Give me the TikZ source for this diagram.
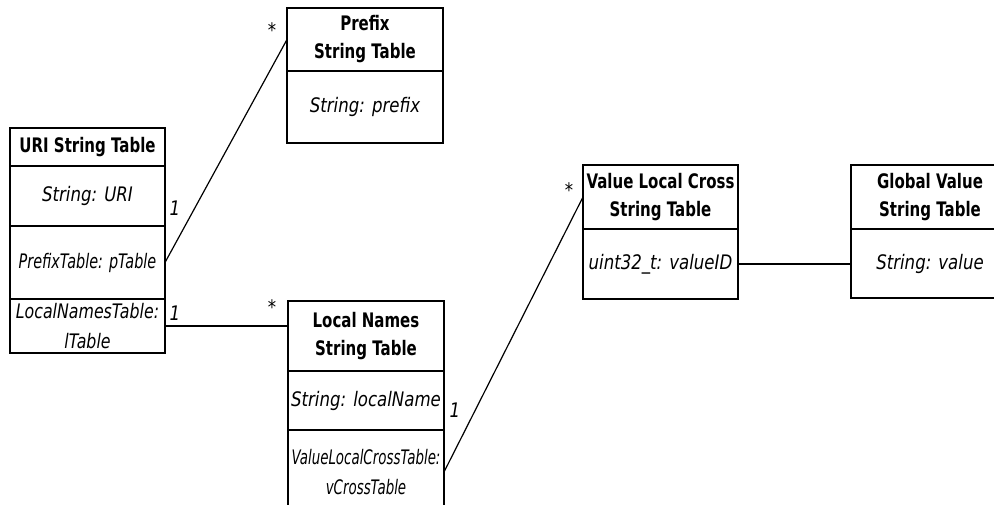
\documentclass[tikz,border=0pt]{standalone}
\usepackage{fontspec}
\setmainfont{DejaVu Sans}[FakeStretch=0.83]
\newfontfamily\headfont{DejaVu Sans}[FakeStretch=0.75]
\newfontfamily\midfont{DejaVu Sans}[FakeStretch=0.79]
\newfontfamily\ptabfont{DejaVu Sans}[FakeStretch=0.72]
\newfontfamily\tightfont{DejaVu Sans}[FakeStretch=0.67]
\usetikzlibrary{positioning}
\tikzset{
  tblhead/.style={draw, line width=1.5pt, outer sep=0pt, inner sep=2pt, minimum width=155pt,
    align=center, anchor=north west, font=\fontsize{20}{28}\selectfont\headfont\bfseries},
  tblrow/.style={draw, line width=1.5pt, outer sep=0pt, inner sep=2pt, minimum width=155pt,
    align=center, font=\fontsize{20}{30}\selectfont\itshape},
  midrow/.style={tblrow, font=\fontsize{20}{30}\selectfont\midfont\itshape},
  ptabrow/.style={tblrow, font=\fontsize{20}{30}\selectfont\ptabfont\itshape},
  tightrow/.style={tblrow, font=\fontsize{20}{30}\selectfont\tightfont\itshape},
  mult/.style={inner sep=0pt, font=\fontsize{20}{22}\selectfont\itshape},
  star/.style={inner sep=0pt, font=\fontsize{20}{22}\selectfont},
  assoc/.style={line width=1.2pt}
}
\begin{document}
\begin{tikzpicture}[x=1pt,y=-1pt]
\useasboundingbox (0,0) rectangle (994,504);
\clip (0,0) rectangle (994,504);
% URI table
\node[tblhead, minimum height=38pt] (uri) at (10,128) {URI String Table};
\node[tblrow, minimum height=60pt, below=0pt of uri] (uristr) {String: URI};
\node[ptabrow, minimum height=73pt, below=0pt of uristr] (ptab) {PrefixTable: pTable};
\node[midrow, minimum height=54pt, below=0pt of ptab] (ltab) {LocalNamesTable:\\lTable};
% Prefix table
\node[tblhead, minimum height=63pt, minimum width=156pt] (prefix) at (287,8) {Prefix\\String Table};
\node[tblrow, minimum height=72pt, minimum width=156pt, below=0pt of prefix] (prefstr) {String: prefix};
% Local names table
\node[tblhead, minimum height=70pt, minimum width=156pt] (lnames) at (288,301) {Local Names\\String Table};
\node[tblrow, minimum height=59pt, minimum width=156pt, below=0pt of lnames] (lnstr) {String: localName};
\node[tightrow, minimum height=84pt, minimum width=156pt, below=0pt of lnstr] (vcross) {ValueLocalCrossTable:\\vCrossTable};
% Value local cross table
\node[tblhead, minimum height=64pt] (vlc) at (583,165) {Value Local Cross\\String Table};
\node[tblrow, minimum height=70pt, below=0pt of vlc] (vid) {uint32\_t: valueID};
% Global value table
\node[tblhead, minimum height=64pt, minimum width=158pt] (gval) at (851,165) {Global Value\\String Table};
\node[tblrow, minimum height=69pt, minimum width=158pt, below=0pt of gval] (gstr) {String: value};
% associations
\draw[assoc] (ptab.east) -- (prefix.west);
\draw[assoc] (ltab.east) -- (ltab.east -| lnames.west);
\draw[assoc] (vcross.east) -- (vlc.west);
\draw[assoc] (vid.east) -- (vid.east -| gstr.west);
% multiplicities
\node[mult] (m1) at (175,208) {1};
\node[star] (m2) at (272,30) {*};
\node[mult] (m3) at (175,313) {1};
\node[star] (m4) at (272,307) {*};
\node[mult] (m5) at (455,410) {1};
\node[star] (m6) at (569,190) {*};
\end{tikzpicture}
\end{document}
